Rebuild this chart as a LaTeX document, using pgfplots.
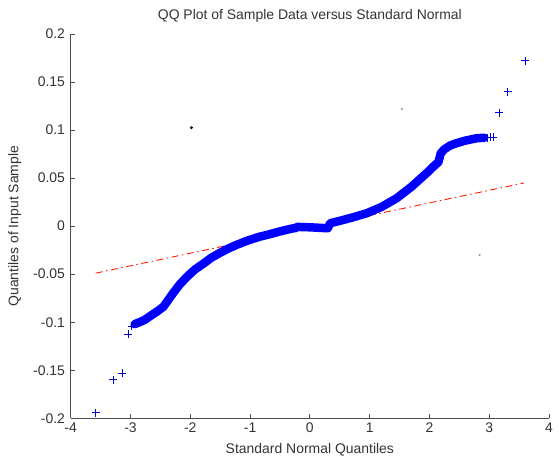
\documentclass[border=0pt]{standalone}
\usepackage{pgfplots}
\pgfplotsset{compat=1.18}
\usepackage{pgfplotstable}
\usepackage{fontspec}
\setmainfont{Liberation Sans}

% Central band of the QQ plot (sample quantiles vs standard normal quantiles)
\pgfplotstableread{
x y
-2.93 -0.1020
-2.85 -0.1000
-2.76 -0.0975
-2.68 -0.0940
-2.56 -0.0890
-2.45 -0.0840
-2.37 -0.0770
-2.29 -0.0700
-2.18 -0.0610
-2.06 -0.0530
-1.92 -0.0450
-1.78 -0.0390
-1.65 -0.0330
-1.51 -0.0280
-1.37 -0.0235
-1.23 -0.0196
-1.04 -0.0150
-0.84 -0.0110
-0.72 -0.0092
-0.50 -0.0055
-0.30 -0.0025
-0.24 -0.0020
-0.21 -0.0008
 0.00 -0.0012
 0.15 -0.0017
 0.30 -0.0022
 0.34  0.0030
 0.50  0.0055
 0.70  0.0088
 0.95  0.0134
 1.20  0.0200
 1.45  0.0290
 1.70  0.0410
 1.95  0.0550
 2.10  0.0640
 2.15  0.0665
 2.19  0.0760
 2.25  0.0800
 2.35  0.0840
 2.45  0.0863
 2.60  0.0890
 2.79  0.0915
 2.92  0.0920
}\band

% Individually visible points (tails)
\pgfplotstableread{
x y
-3.58 -0.1940
-3.29 -0.1600
-3.14 -0.1530
-3.04 -0.1125
-2.98 -0.1040
-2.93 -0.1020
-2.87 -0.1010
 2.92  0.0920
 2.97  0.0922
 3.02  0.0924
 3.07  0.0925
 3.17  0.1180
 3.31  0.1400
 3.60  0.1720
}\tails

% Reference line through the quartiles, extended
\pgfplotstableread{
x y
-3.58 -0.0489
 3.58  0.0449
}\refline

\begin{document}
\begin{tikzpicture}
\begin{axis}[
  name=ax,
  scale only axis,
  width=478.3bp, height=384.3bp,
  xmin=-4, xmax=4, ymin=-0.2, ymax=0.2,
  enlargelimits=false,
  axis lines=left,
  axis line style={-, black!70, line width=0.8bp},
  tick style={black!70, line width=0.8bp},
  major tick length=4.5bp,
  tick align=inside,
  xtick={-4,-3,-2,-1,0,1,2,3,4},
  xticklabels={-4,-3,-2,-1,0,1,2,3,4},
  ytick={-0.2,-0.15,-0.1,-0.05,0,0.05,0.1,0.15,0.2},
  yticklabels={-0.2,-0.15,-0.1,-0.05,0,0.05,0.1,0.15,0.2},
  tick label style={font=\fontsize{14}{16}\selectfont, text=black!80},
  xticklabel style={anchor=north, inner sep=0pt, yshift=-4bp},
  yticklabel style={anchor=east, inner sep=0pt, xshift=-5.5bp},
  title={QQ Plot of Sample Data versus Standard Normal},
  title style={at={(axis description cs:0.5,1.0234)}, anchor=base, inner sep=0pt, font=\fontsize{14}{16}\selectfont, text=black!80},
  xlabel={Standard Normal Quantiles},
  xlabel style={at={(axis description cs:0.5,-0.091)}, anchor=base, inner sep=0pt, font=\fontsize{14}{16}\selectfont, text=black!80},
  ylabel={Quantiles of Input Sample},
  ylabel style={at={(axis description cs:-0.1093,0.5)}, anchor=base, rotate=0, inner sep=0pt, font=\fontsize{14}{16}\selectfont, text=black!80},
  clip=false,
]
\addplot[red!80!orange, line width=0.9bp, dash pattern=on 7bp off 3.5bp on 1.5bp off 3.5bp] table {\refline};
\addplot[blue, line width=8.5bp, line join=round, line cap=round] table {\band};
\addplot[blue, only marks, mark=+, mark size=4bp, mark options={line width=0.9bp}] table {\band};
\addplot[blue!85!black, only marks, mark=+, mark size=4bp, mark options={line width=0.9bp}] table {\tails};
\addplot[black, only marks, mark=*, mark size=1.3bp] coordinates {(-1.98,0.1025)};
\addplot[black!45, only marks, mark=*, mark size=0.8bp] coordinates {(1.54,0.122) (2.84,-0.030)};
\end{axis}
\pgfresetboundingbox
\path[use as bounding box] ([xshift=-70.7bp,yshift=-38.7bp]ax.south west) rectangle ([xshift=10bp,yshift=34bp]ax.north east);
\end{tikzpicture}
\end{document}
